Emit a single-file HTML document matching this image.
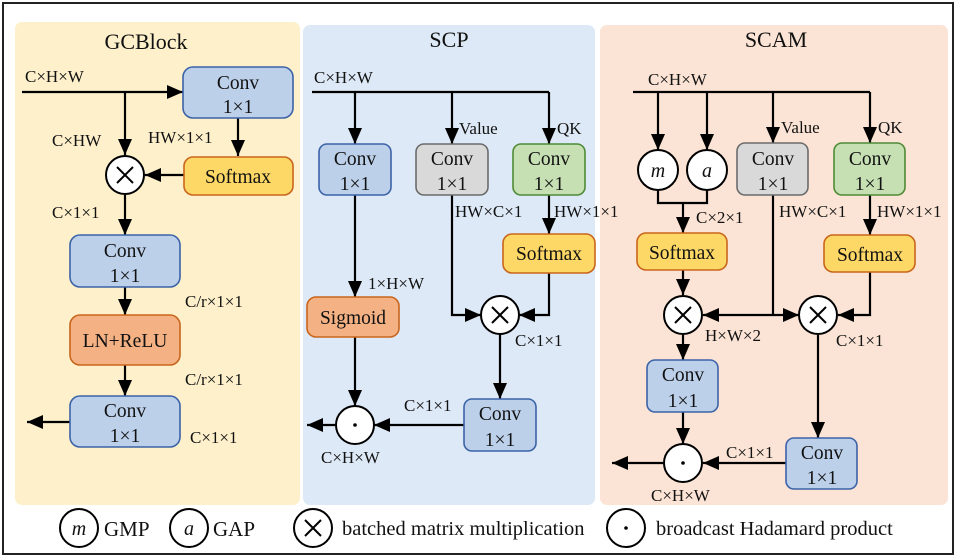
<!DOCTYPE html>
<html><head><meta charset="utf-8"><style>body{margin:0;background:#fff}svg{display:block}text{font-family:"Liberation Serif",serif;fill:#111}</style></head><body>
<svg width="957" height="560" viewBox="0 0 957 560" xmlns="http://www.w3.org/2000/svg">
<defs>
<marker id="b" viewBox="0 0 16 14" markerWidth="16" markerHeight="14" refX="16" refY="7" orient="auto" markerUnits="userSpaceOnUse"><path d="M0,0 L16,7 L0,14 z" fill="#000"/></marker></defs>
<rect x="3" y="3" width="950" height="551" fill="#fff" stroke="#222" stroke-width="2"/>
<rect x="15" y="22" width="285" height="483" rx="7" fill="#fdf0cb"/>
<rect x="303" y="25" width="292" height="480" rx="7" fill="#dde9f6"/>
<rect x="600" y="25" width="348" height="480" rx="7" fill="#fbe4d5"/>
<g font-size="22" text-anchor="middle">
<text x="146" y="49">GCBlock</text>
<text x="449" y="47">SCP</text>
<text x="776" y="47">SCAM</text>
</g>
<g stroke="#000" stroke-width="2.2" fill="none">
<path d="M22,92 H183" marker-end="url(#b)"/>
<path d="M125,92 V155" marker-end="url(#b)"/>
<path d="M238,118 V156" marker-end="url(#b)"/>
<path d="M184,175 H145" marker-end="url(#b)"/>
<path d="M125,195 V235" marker-end="url(#b)"/>
<path d="M125,287 V315" marker-end="url(#b)"/>
<path d="M125,365 V396" marker-end="url(#b)"/>
<path d="M70,422 H27" marker-end="url(#b)"/>
<path d="M312,92 H549"/>
<path d="M355,92 V144" marker-end="url(#b)"/>
<path d="M452,92 V144" marker-end="url(#b)"/>
<path d="M549,92 V144" marker-end="url(#b)"/>
<path d="M355,195 V297" marker-end="url(#b)"/>
<path d="M355,337 V406" marker-end="url(#b)"/>
<path d="M452,195 V315 H481" marker-end="url(#b)"/>
<path d="M549,195 V234" marker-end="url(#b)"/>
<path d="M549,273 V315 H519" marker-end="url(#b)"/>
<path d="M500,334 V399" marker-end="url(#b)"/>
<path d="M464,425 H374" marker-end="url(#b)"/>
<path d="M336,425 H307" marker-end="url(#b)"/>
<path d="M633,92 H870"/>
<path d="M658,92 V150" marker-end="url(#b)"/>
<path d="M707,92 V150" marker-end="url(#b)"/>
<path d="M773,92 V143" marker-end="url(#b)"/>
<path d="M870,92 V143" marker-end="url(#b)"/>
<path d="M658,190 V203 H707 V190"/>
<path d="M683,203 V233" marker-end="url(#b)"/>
<path d="M683,270 V295" marker-end="url(#b)"/>
<path d="M773,195 V315"/>
<path d="M773,315 H703" marker-end="url(#b)"/>
<path d="M773,315 H799" marker-end="url(#b)"/>
<path d="M870,195 V235" marker-end="url(#b)"/>
<path d="M870,272 V315 H838" marker-end="url(#b)"/>
<path d="M683,335 V360" marker-end="url(#b)"/>
<path d="M683,412 V444" marker-end="url(#b)"/>
<path d="M818,335 V438" marker-end="url(#b)"/>
<path d="M786,463 H703" marker-end="url(#b)"/>
<path d="M664,463 H612" marker-end="url(#b)"/>
</g>
<g stroke-width="1.6">
<g fill="#bcd0ea" stroke="#3c63a8">
<rect x="183" y="67" width="110" height="51" rx="10"/>
<rect x="70" y="235" width="110" height="52" rx="10"/>
<rect x="70" y="396" width="110" height="51" rx="10"/>
<rect x="319" y="144" width="72" height="51" rx="8"/>
<rect x="464" y="399" width="72" height="52" rx="8"/>
<rect x="647" y="360" width="71" height="52" rx="8"/>
<rect x="786" y="438" width="71" height="51" rx="8"/>
</g>
<g fill="#fdd866" stroke="#c9651c">
<rect x="184" y="157" width="109" height="38" rx="9"/>
<rect x="503" y="234" width="92" height="39" rx="9"/>
<rect x="637" y="233" width="90" height="37" rx="9"/>
<rect x="824" y="235" width="91" height="37" rx="9"/>
</g>
<g fill="#f4b183" stroke="#c9651c">
<rect x="70" y="315" width="110" height="50" rx="10"/>
<rect x="307" y="297" width="92" height="40" rx="9"/>
</g>
<rect x="416" y="144" width="72" height="51" rx="8" fill="#d9d9d9" stroke="#6b6b6b"/>
<rect x="737" y="143" width="71" height="52" rx="8" fill="#d9d9d9" stroke="#6b6b6b"/>
<rect x="513" y="144" width="72" height="51" rx="8" fill="#c6e0b4" stroke="#4f8a36"/>
<rect x="834" y="143" width="71" height="52" rx="8" fill="#c6e0b4" stroke="#4f8a36"/>
</g>
<g font-size="19.5" text-anchor="middle">
<text x="238" y="89">Conv</text><text x="238" y="113">1×1</text>
<text x="125" y="257">Conv</text><text x="125" y="282">1×1</text>
<text x="125" y="417">Conv</text><text x="125" y="442">1×1</text>
<text x="355" y="165">Conv</text><text x="355" y="190">1×1</text>
<text x="452" y="165">Conv</text><text x="452" y="190">1×1</text>
<text x="549" y="165">Conv</text><text x="549" y="190">1×1</text>
<text x="500" y="420">Conv</text><text x="500" y="446">1×1</text>
<text x="773" y="165">Conv</text><text x="773" y="190">1×1</text>
<text x="870" y="165">Conv</text><text x="870" y="190">1×1</text>
<text x="683" y="381">Conv</text><text x="683" y="407">1×1</text>
<text x="822" y="459">Conv</text><text x="822" y="484">1×1</text>
<text x="238" y="183">Softmax</text>
<text x="549" y="260">Softmax</text>
<text x="682" y="259">Softmax</text>
<text x="870" y="261">Softmax</text>
<text x="125" y="347">LN+ReLU</text>
<text x="353" y="324">Sigmoid</text>
</g>
<g fill="#fff" stroke="#000" stroke-width="2">
<circle cx="125" cy="175" r="19"/>
<circle cx="500" cy="315" r="19"/>
<circle cx="683" cy="315" r="19"/>
<circle cx="818" cy="315" r="19"/>
<circle cx="355" cy="425" r="19"/>
<circle cx="683" cy="463" r="19"/>
<circle cx="658" cy="170" r="20"/>
<circle cx="707" cy="170" r="20"/>
<circle cx="79" cy="528" r="19"/>
<circle cx="189" cy="528" r="19"/>
<circle cx="313" cy="528" r="19"/>
<circle cx="626" cy="528" r="19"/>
</g>
<g stroke="#000" stroke-width="2">
<path d="M117,167 L133,183 M133,167 L117,183"/>
<path d="M492,307 L508,323 M508,307 L492,323"/>
<path d="M675,307 L691,323 M691,307 L675,323"/>
<path d="M810,307 L826,323 M826,307 L810,323"/>
<path d="M305,520 L321,536 M321,520 L305,536"/>
</g>
<g fill="#000"><circle cx="355" cy="425" r="1.8"/><circle cx="683" cy="463" r="1.8"/><circle cx="626" cy="528" r="1.8"/></g>
<g font-size="20" font-style="italic" text-anchor="middle">
<text x="658" y="177">m</text><text x="707" y="177">a</text>
<text x="79" y="535">m</text><text x="189" y="535">a</text>
</g>
<g font-size="21">
<text x="104" y="536">GMP</text><text x="213" y="536">GAP</text>
<text x="342" y="535" font-size="20.5">batched matrix multiplication</text>
<text x="656" y="535" font-size="20.5">broadcast Hadamard product</text>
</g>
<g font-size="17">
<text x="25" y="82">C×H×W</text>
<text x="52" y="146">C×HW</text>
<text x="148" y="143">HW×1×1</text>
<text x="52" y="218">C×1×1</text>
<text x="185" y="307">C/r×1×1</text>
<text x="185" y="385">C/r×1×1</text>
<text x="190" y="443">C×1×1</text>
<text x="314" y="83">C×H×W</text>
<text x="459" y="134">Value</text>
<text x="557" y="134">QK</text>
<text x="455" y="217">HW×C×1</text>
<text x="554" y="217">HW×1×1</text>
<text x="368" y="289">1×H×W</text>
<text x="515" y="346">C×1×1</text>
<text x="404" y="411">C×1×1</text>
<text x="321" y="463">C×H×W</text>
<text x="648" y="85">C×H×W</text>
<text x="781" y="133">Value</text>
<text x="878" y="133">QK</text>
<text x="696" y="223">C×2×1</text>
<text x="779" y="217">HW×C×1</text>
<text x="877" y="217">HW×1×1</text>
<text x="705" y="341">H×W×2</text>
<text x="836" y="346">C×1×1</text>
<text x="726" y="458">C×1×1</text>
<text x="651" y="501">C×H×W</text>
</g>
</svg>
</body></html>
